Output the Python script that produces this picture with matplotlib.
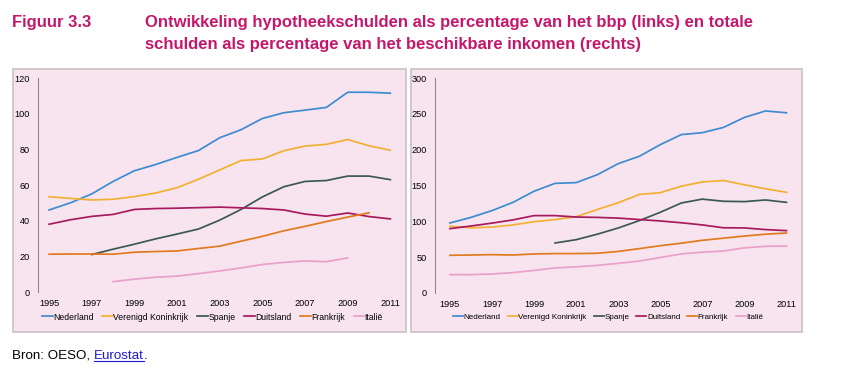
import matplotlib
matplotlib.use("Agg")
import matplotlib.pyplot as plt
from matplotlib.patches import Rectangle
from matplotlib.lines import Line2D
import numpy as np

plt.rcParams['font.family'] = ['Liberation Sans', 'DejaVu Sans']

years = list(range(1995, 2012))
series_names = ["Nederland", "Verenigd Koninkrijk", "Spanje", "Duitsland", "Frankrijk", "Italië"]
colors = ["#3d8bd0", "#f2b033", "#3c5853", "#a81a5e", "#e27a1e", "#eaa0c8"]

# Left panel: mortgage debt as % of GDP (None = no data)
left_nl = [46, 50, 55, 62, 68, 71.5, 75.5, 79.3, 86.5, 91, 97.3, 100.5, 102, 103.5, 112, 112, 111.5]
left_uk = [53.4, 52.5, 51.6, 52, 53.5, 55.5, 58.5, 63.2, 68.5, 73.7, 74.6, 79.2, 81.8, 82.8, 85.5, 82, 79.5]
left_es = [None, None, 21, 24, 26.8, 29.8, 32.5, 35.3, 40.3, 46.3, 53.3, 59, 62, 62.5, 65, 65, 63]
left_de = [38, 40.5, 42.4, 43.5, 46.3, 46.8, 47, 47.3, 47.6, 47.2, 46.8, 46, 43.7, 42.5, 44.3, 42.3, 41]
left_fr = [21.2, 21.3, 21.3, 21.2, 22.3, 22.7, 23, 24.4, 25.7, 28.5, 31.2, 34.3, 36.8, 39.5, 42, 44.4, None]
left_it = [None, None, None, 5.8, 7.2, 8.3, 8.9, 10.3, 11.8, 13.5, 15.4, 16.6, 17.4, 17, 19.1, None, None]

# Right panel: total debt as % of disposable income
right_nl = [97.7, 105.5, 115, 126.5, 142, 153, 154, 165, 180.5, 190.7, 207, 221, 223.7, 231, 245, 254, 251.5]
right_uk = [93, 91, 92, 95, 99.5, 102.5, 106.5, 116.5, 126, 137.5, 140, 149, 155, 157, 151, 145.5, 140.5]
right_es = [None, None, None, None, None, 69.8, 74.4, 82, 90.7, 101, 112.6, 125.6, 131, 128, 127.5, 129.8, 126.5]
right_de = [89.8, 93.5, 97.5, 102, 108, 108, 106, 105.5, 104.5, 102.5, 100.5, 98, 95, 91, 90.8, 88.5, 87]
right_fr = [52.6, 53, 53.5, 53, 54.5, 55, 55, 55.5, 58, 61.9, 66, 69.5, 73.5, 76.5, 79.5, 82, 83.7]
right_it = [25.6, 25.6, 26.5, 28.5, 31.5, 35, 36.5, 38.5, 41.4, 44.5, 49.5, 54.5, 57, 58.5, 63, 65.1, 65.5]

left_data = [left_nl, left_uk, left_es, left_de, left_fr, left_it]
right_data = [right_nl, right_uk, right_es, right_de, right_fr, right_it]

left_yticks = [0, 20, 40, 60, 80, 100, 120]
right_yticks = [0, 50, 100, 150, 200, 250, 300]
xtick_years = [1995, 1997, 1999, 2001, 2003, 2005, 2007, 2009, 2011]

W, H = 845, 381
fig = plt.figure(figsize=(W / 100, H / 100), dpi=100)

def fx(px):
    return px / W

def fy(py):
    return 1 - py / H

bg = "#f8e4ee"
border = "#c9c1c5"

def panel(box, axbox, data, yticks, ymax, xlim, leg_x, leg_fs, leg_cs):
    bx0, by0, bx1, by1 = box
    fig.patches.append(Rectangle((fx(bx0), fy(by1)), fx(bx1 - bx0), (by1 - by0) / H,
                                 transform=fig.transFigure, facecolor=bg,
                                 edgecolor=border, linewidth=1.2, zorder=-5))
    ax0, ay0, ax1, ay1 = axbox
    ax = fig.add_axes([fx(ax0), fy(ay1), fx(ax1 - ax0), (ay1 - ay0) / H])
    ax.set_zorder(5)
    ax.set_facecolor("none")
    ax.patch.set_alpha(0)
    for name, vals, c in zip(series_names, data, colors):
        y = np.array([np.nan if v is None else v for v in vals], dtype=float)
        ax.plot(years, y, color=c, linewidth=1.25, label=name)
    ax.set_xlim(*xlim)
    ax.set_ylim(0, ymax)
    ax.set_yticks(yticks)
    ax.set_xticks(xtick_years)
    ax.set_xticklabels([str(v) for v in xtick_years])
    for s in ["top", "right", "bottom"]:
        ax.spines[s].set_visible(False)
    ax.spines["left"].set_color("#8a8a8a")
    ax.spines["left"].set_linewidth(0.8)
    ax.tick_params(length=0, labelsize=6.6, colors="black")
    ax.tick_params(axis="y", pad=6)
    ax.tick_params(axis="x", pad=5)
    ax.legend(loc="center left", bbox_to_anchor=(fx(leg_x), fy(317)),
              bbox_transform=fig.transFigure, ncol=6,
              frameon=False, fontsize=leg_fs, handlelength=1.25, handletextpad=0.05,
              columnspacing=leg_cs, borderaxespad=0, borderpad=0)
    return ax

panel((13, 69, 406, 332), (38, 78, 401, 292), left_data, left_yticks, 120,
      (1994.48, 2011.5), 42, 6.2, 1.0)
panel((411, 69, 802, 332), (435, 78, 797, 293), right_data, right_yticks, 300,
      (1994.29, 2011.5), 453, 5.8, 0.9)

title_color = "#c4176c"
tfs = 12
fig.text(fx(12), fy(22), "Figuur 3.3", color=title_color, fontsize=tfs,
         fontweight="bold", va="center", ha="left")
fig.text(fx(145), fy(22), "Ontwikkeling hypotheekschulden als percentage van het bbp (links) en totale",
         color=title_color, fontsize=tfs, fontweight="bold", va="center", ha="left")
fig.text(fx(145), fy(45), "schulden als percentage van het beschikbare inkomen (rechts)",
         color=title_color, fontsize=tfs, fontweight="bold", va="center", ha="left")

bfs = 9.6
t1 = fig.text(fx(12), fy(359), "Bron: OESO, ", color="black", fontsize=bfs, va="baseline", ha="left")
fig.canvas.draw()
r = fig.canvas.get_renderer()
bb = t1.get_window_extent(r)
t2 = fig.text(bb.x1 / W, fy(359), "Eurostat", color="#1a1ad0", fontsize=bfs, va="baseline", ha="left")
bb2 = t2.get_window_extent(r)
t3 = fig.text(bb2.x1 / W, fy(359), ".", color="black", fontsize=bfs, va="baseline", ha="left")
fig.lines.append(Line2D([bb2.x0 / W, bb2.x1 / W], [fy(361), fy(361)], transform=fig.transFigure,
                        color="#1a1ad0", linewidth=0.8))

fig.savefig("out.png", dpi=100, facecolor="white")
